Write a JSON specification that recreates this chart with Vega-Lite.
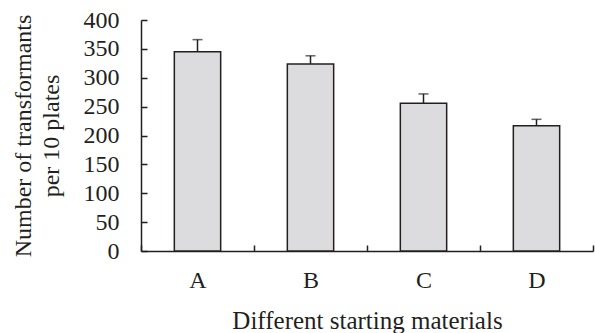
{
  "$schema": "https://vega.github.io/schema/vega-lite/v6.json",
  "width": 452,
  "height": 231,
  "autosize": "none",
  "padding": {"left": 141, "top": 20, "right": 2, "bottom": 82},
  "background": "white",
  "config": {
    "view": {"stroke": null},
    "font": "Liberation Serif",
    "axis": {
      "labelFont": "Liberation Serif",
      "titleFont": "Liberation Serif",
      "labelFontSize": 24,
      "titleFontSize": 24,
      "labelColor": "#231f20",
      "titleColor": "#231f20",
      "titleFontWeight": "normal",
      "domainColor": "#231f20",
      "tickColor": "#231f20",
      "domainWidth": 1.5,
      "tickWidth": 1.5,
      "labelOverlap": false,
      "grid": false
    }
  },
  "data": {
    "values": [
      {"material": "A", "value": 345, "upper": 366},
      {"material": "B", "value": 324, "upper": 338},
      {"material": "C", "value": 256, "upper": 272},
      {"material": "D", "value": 217, "upper": 228}
    ]
  },
  "encoding": {
    "x": {
      "field": "material",
      "type": "nominal",
      "scale": {"paddingInner": 0, "paddingOuter": 0},
      "axis": {
        "title": "Different starting materials",
        "titleFontSize": 25,
        "labelAngle": 0,
        "tickBand": "extent",
        "tickSize": -6,
        "labelPadding": 23,
        "titlePadding": 16
      }
    }
  },
  "layer": [
    {
      "mark": {"type": "bar", "width": {"band": 0.41}, "fill": "#dcdcdf", "stroke": "#231f20", "strokeWidth": 1.5},
      "encoding": {
        "y": {
          "field": "value",
          "type": "quantitative",
          "scale": {"domain": [0, 400], "nice": false},
          "axis": {
            "title": ["Number of transformants", "per 10 plates"],
            "titleLineHeight": 28,
            "values": [0, 50, 100, 150, 200, 250, 300, 350, 400],
            "labelOverlap": false,
            "tickSize": -6,
            "labelPadding": 28,
            "titlePadding": 20
          }
        }
      }
    },
    {
      "mark": {"type": "rule", "color": "#231f20", "strokeWidth": 1.5},
      "encoding": {
        "y": {
          "field": "value",
          "type": "quantitative",
          "axis": {
            "title": ["Number of transformants", "per 10 plates"],
            "titleLineHeight": 28,
            "values": [0, 50, 100, 150, 200, 250, 300, 350, 400],
            "labelOverlap": false,
            "tickSize": -6,
            "labelPadding": 28,
            "titlePadding": 20
          }
        },
        "y2": {"field": "upper"}
      }
    },
    {
      "mark": {"type": "tick", "color": "#231f20", "size": 10, "thickness": 1.5},
      "encoding": {
        "y": {
          "field": "upper",
          "type": "quantitative",
          "axis": {
            "title": ["Number of transformants", "per 10 plates"],
            "titleLineHeight": 28,
            "values": [0, 50, 100, 150, 200, 250, 300, 350, 400],
            "labelOverlap": false,
            "tickSize": -6,
            "labelPadding": 28,
            "titlePadding": 20
          }
        }
      }
    }
  ]
}
